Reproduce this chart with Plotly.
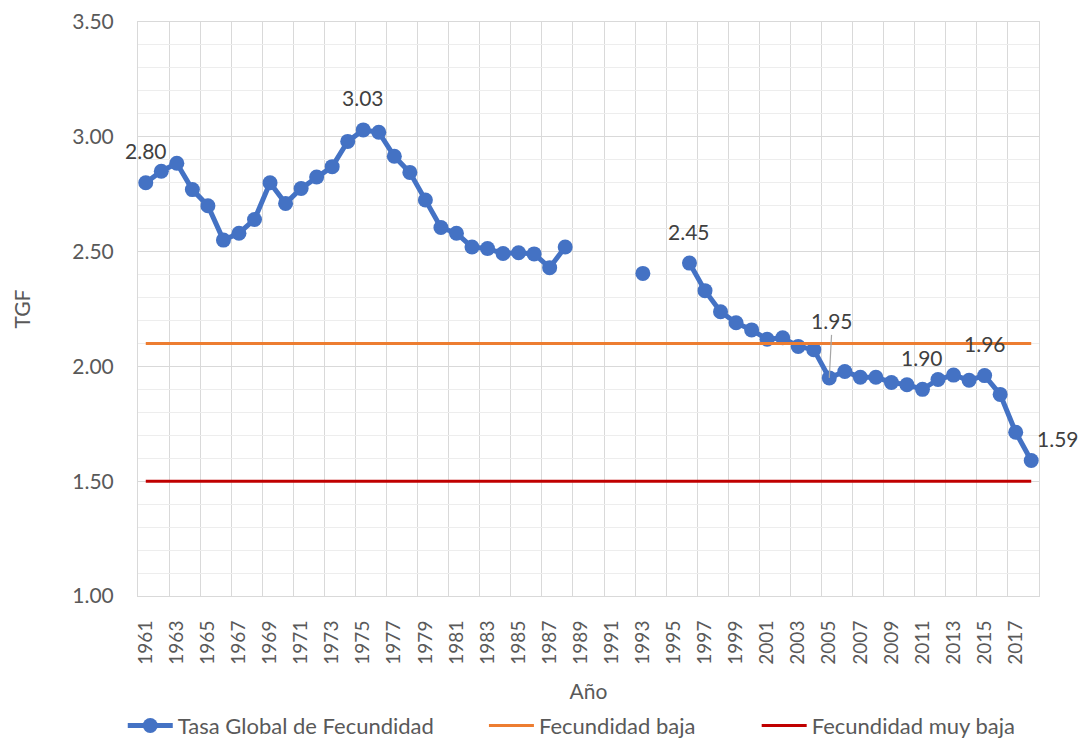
import plotly.graph_objects as go

years = list(range(1961, 2019))
tgf = [2.80, 2.85, 2.885, 2.77, 2.70, 2.55, 2.58, 2.64, 2.80, 2.71,
       2.775, 2.825, 2.87, 2.98, 3.03, 3.02, 2.915, 2.845, 2.725, 2.605,
       2.58, 2.52, 2.513, 2.492, 2.495, 2.49, 2.43, 2.52, None, None,
       None, None, 2.405, None, None, 2.45, 2.33, 2.238, 2.19, 2.159,
       2.118, 2.125, 2.087, 2.073, 1.95, 1.978, 1.953, 1.953, 1.93, 1.92,
       1.90, 1.943, 1.962, 1.94, 1.96, 1.878, 1.713, 1.59]
fec_baja_value = 2.10
fec_muy_baja_value = 1.50
fec_baja = [fec_baja_value for _ in years]
fec_muy_baja = [fec_muy_baja_value for _ in years]

label_years = [1961, 1975, 1996, 2011, 2015]
leader_year = 2005
end_year = 2018

tick_years = list(range(1961, 2018, 2))
grid_years = [y - 0.5 for y in range(1961, 2020, 2)]

FONT = "Lato"
BLUE = "#4472C4"
ORANGE = "#ED7D31"
RED = "#C00000"
NB = "\u00a0"

fig = go.Figure()
fig.add_trace(go.Scatter(
    x=years, y=tgf, name="Tasa Global de Fecundidad" + NB * 8,
    mode="lines+markers", connectgaps=False,
    line=dict(color=BLUE, width=5),
    marker=dict(color=BLUE, size=15),
))
fig.add_trace(go.Scatter(
    x=years, y=fec_baja, name="Fecundidad baja" + NB * 10,
    mode="lines", line=dict(color=ORANGE, width=3),
))
fig.add_trace(go.Scatter(
    x=years, y=fec_muy_baja, name="Fecundidad muy baja",
    mode="lines", line=dict(color=RED, width=3),
))

val = dict(zip(years, tgf))
LBL = dict(family=FONT, size=21, color="#404040")
for yr in label_years:
    fig.add_annotation(x=yr, y=val[yr], text=f"{val[yr]:.2f}", showarrow=False,
                       yshift=32, font=LBL)
fig.add_annotation(x=leader_year, y=val[leader_year], text=f"{val[leader_year]:.2f}",
                   showarrow=True, arrowhead=0, arrowwidth=1.2, arrowcolor="#A6A6A6",
                   ax=3, ay=-57, font=LBL)
fig.add_annotation(x=end_year, y=val[end_year], text=f"{val[end_year]:.2f}", showarrow=False,
                   xshift=27, yshift=22, font=LBL)

fig.update_layout(
    width=1087, height=739,
    margin=dict(l=138, r=48, t=22, b=143, autoexpand=False),
    paper_bgcolor="white", plot_bgcolor="white",
    font=dict(family=FONT, size=21, color="#595959"),
    showlegend=True,
    legend=dict(orientation="h", xref="container", yref="container",
                x=0.526, y=0.018, xanchor="center", yanchor="middle",
                font=dict(family=FONT, size=22, color="#595959"),
                itemwidth=45),
    xaxis=dict(
        range=[1960.5, 2018.5], automargin=False,
        tickmode="array", tickvals=tick_years, ticktext=[str(t) for t in tick_years],
        tickangle=-90, showgrid=False, zeroline=False,
        showline=True, linecolor="#D9D9D9", linewidth=1, mirror=True,
        ticks="", ticklabelstandoff=16,
        minor=dict(tickmode="array", tickvals=grid_years, showgrid=True,
                   gridcolor="#D9D9D9", gridwidth=1, ticks=""),
        title=dict(text="Año", standoff=20, font=dict(family=FONT, size=21, color="#595959")),
        tickfont=dict(family=FONT, size=19, color="#595959"),
    ),
    yaxis=dict(
        range=[1.0, 3.5], dtick=0.5, tick0=1.0, tickformat=".2f", automargin=False,
        showgrid=True, gridcolor="#D9D9D9", gridwidth=1, zeroline=False,
        showline=True, linecolor="#D9D9D9", linewidth=1, mirror=True,
        ticks="", ticklabelstandoff=19,
        minor=dict(dtick=0.1, tick0=1.0, showgrid=True, gridcolor="#EDEDED", gridwidth=1),
        title=dict(text="TGF", standoff=35, font=dict(family=FONT, size=21, color="#595959")),
        tickfont=dict(family=FONT, size=21, color="#595959"),
    ),
)

fig.write_html("out.html", config={"displayModeBar": False},
               post_script="document.body.style.margin='0';document.body.style.padding='0';document.body.style.overflow='hidden';")
